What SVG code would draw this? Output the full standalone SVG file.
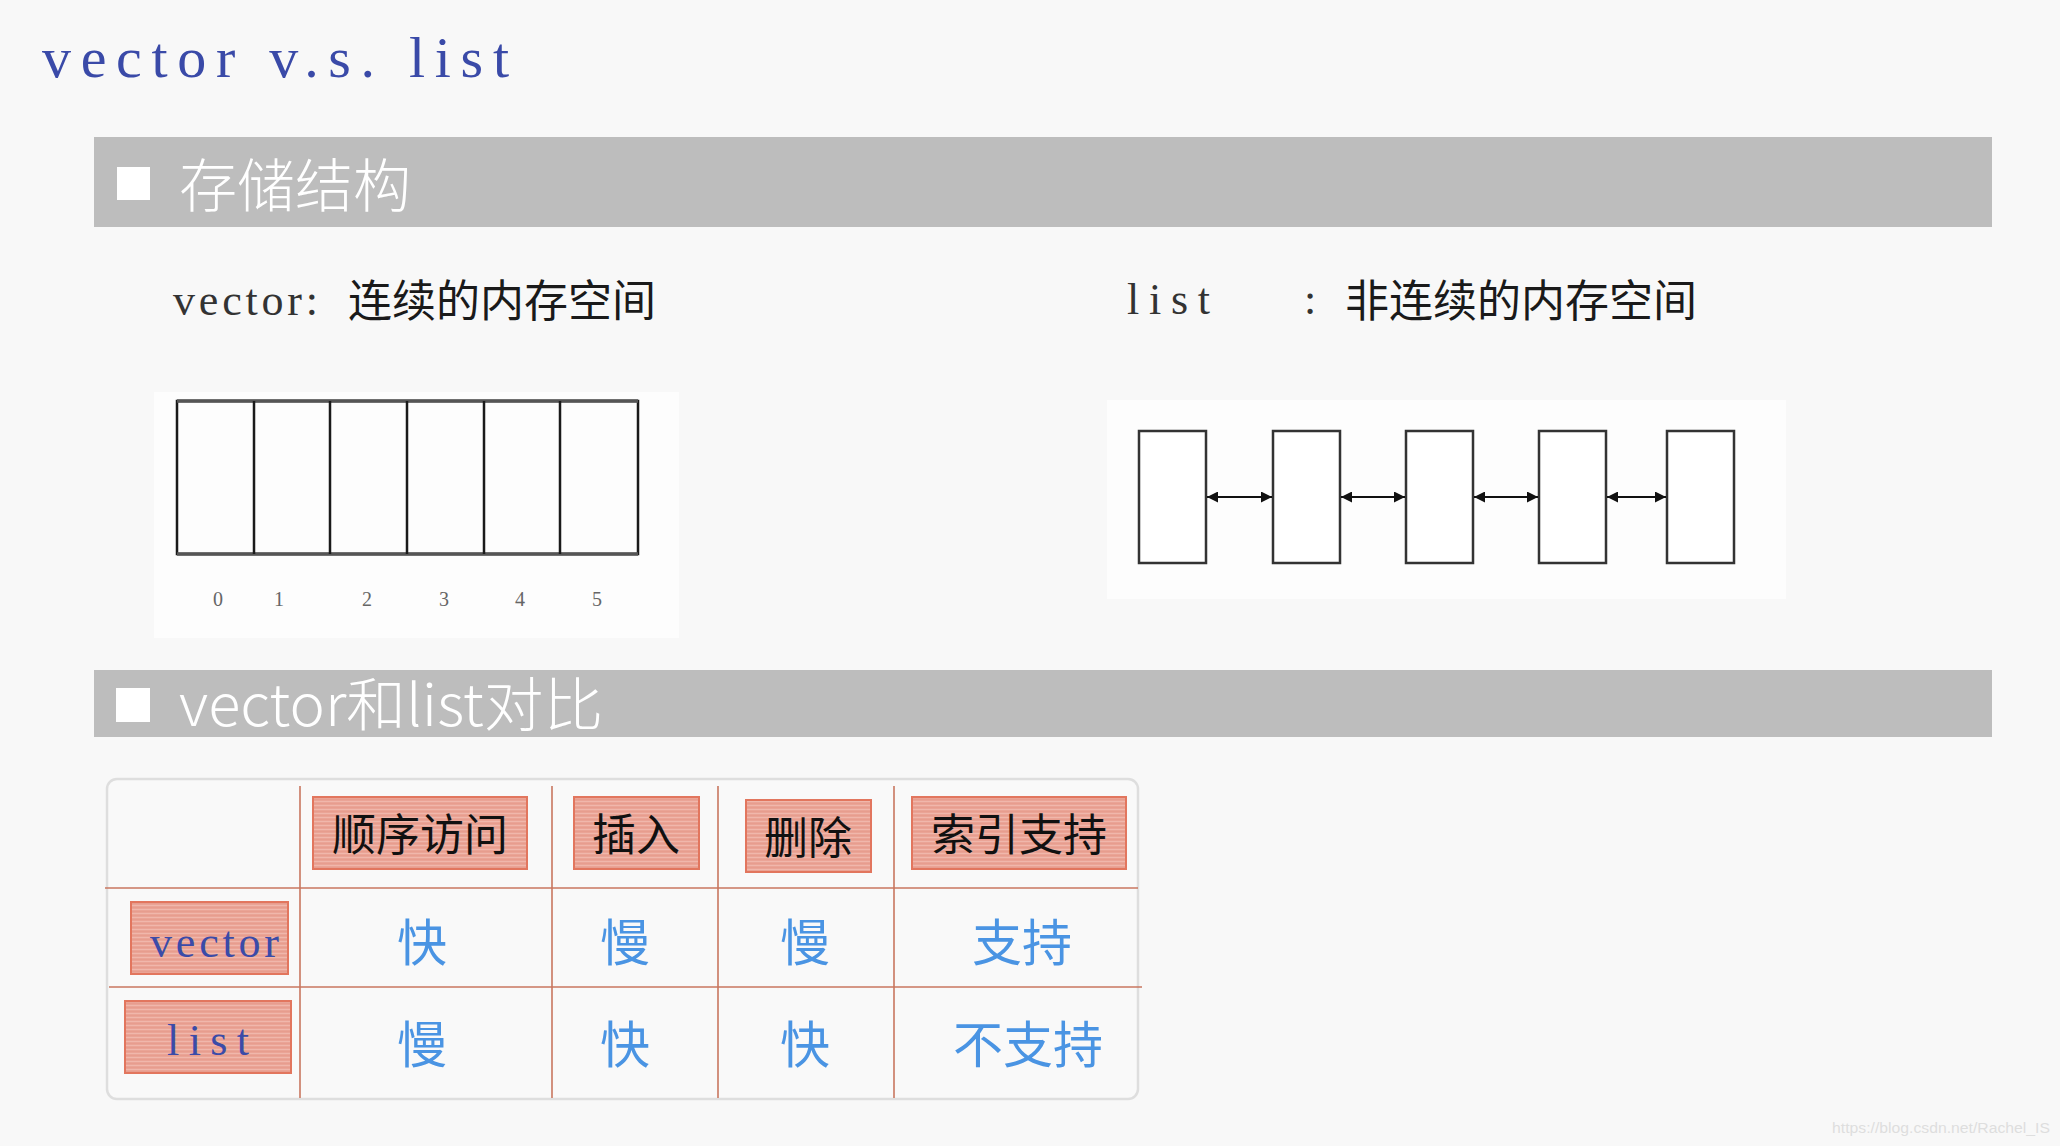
<svg xmlns="http://www.w3.org/2000/svg" width="2060" height="1146" viewBox="0 0 2060 1146">
<defs>
<style>
.bar{fill:#bdbdbd}
.sq{fill:#ffffff}
.bartxt{font-family:"Noto Sans CJK SC","Noto Sans",sans-serif;font-weight:300;fill:#ffffff;font-size:58px}
.serif{font-family:"Liberation Serif","Noto Sans CJK SC",serif}
.cjk{font-family:"Noto Sans CJK SC","Noto Sans",sans-serif}
.sub{fill:#1a1a1a;font-size:44px}
.subl{fill:#333333;font-size:44px}
.cell{fill:none;stroke:#1a1a1a;stroke-width:2.5}
.lnode{fill:#ffffff;stroke:#333333;stroke-width:2.5}
.idx{font-family:"Liberation Serif",serif;font-size:20px;fill:#666666;text-anchor:middle}
.pink{fill:url(#stripe);stroke:#e2765e;stroke-width:2}
.hdr{font-family:"Noto Sans CJK SC",sans-serif;font-size:44px;fill:#111111;text-anchor:middle}
.rowlbl{font-family:"Liberation Serif",serif;font-size:44px;fill:#3b4ba8}
.val{font-family:"Noto Sans CJK SC",sans-serif;font-size:50px;fill:#4a94e3;text-anchor:middle}
.grid{stroke:#c8765f;stroke-width:1.6}
.arrow{stroke:#111111;stroke-width:2;marker-start:url(#ah);marker-end:url(#ah)}
</style>
<pattern id="stripe" width="8" height="4" patternUnits="userSpaceOnUse">
<rect width="8" height="4" fill="#eaa496"/>
<rect y="1" width="8" height="1" fill="#f0b7ab"/>
<rect y="3" width="8" height="0.7" fill="#e69a8b"/>
</pattern>
<marker id="ah" viewBox="0 0 10 10" refX="10" refY="5" markerWidth="11" markerHeight="11" markerUnits="userSpaceOnUse" orient="auto-start-reverse">
<path d="M0,0 L10,5 L0,10 z" fill="#111111"/>
</marker>
</defs>
<rect width="2060" height="1146" fill="#f8f8f8"/>

<text id="title" class="serif" x="42" y="77" font-size="58" fill="#3a4aa8" textLength="467" lengthAdjust="spacing">vector v.s. list</text>

<g id="section1">
<rect class="bar" x="94" y="137" width="1898" height="90"/>
<rect class="sq" x="117" y="167" width="33" height="33"/>
<text class="bartxt" x="179" y="207">存储结构</text>
</g>

<g id="vector-caption">
<text class="serif subl" x="173" y="315" textLength="145" lengthAdjust="spacing">vector:</text>
<text class="cjk sub" x="348" y="317">连续的内存空间</text>
</g>

<g id="list-caption">
<text class="serif subl" x="1127" y="314" textLength="83" lengthAdjust="spacing">list</text>
<text class="serif subl" x="1304" y="314">:</text>
<text class="cjk sub" x="1345" y="317">非连续的内存空间</text>
</g>

<g id="vector-memory">
<rect x="154" y="392" width="525" height="246" fill="#fdfdfd"/>
<rect class="cell" x="177" y="401" width="461" height="153"/>
<line x1="177" y1="401" x2="638" y2="401" stroke="#555" stroke-width="3.5"/>
<line x1="177" y1="554" x2="638" y2="554" stroke="#555" stroke-width="3.5"/>
<line class="cell" x1="254" y1="401" x2="254" y2="554"/>
<line class="cell" x1="330" y1="401" x2="330" y2="554"/>
<line class="cell" x1="407" y1="401" x2="407" y2="554"/>
<line class="cell" x1="484" y1="401" x2="484" y2="554"/>
<line class="cell" x1="560" y1="401" x2="560" y2="554"/>
<text class="idx" x="218" y="606">0</text>
<text class="idx" x="279" y="606">1</text>
<text class="idx" x="367" y="606">2</text>
<text class="idx" x="444" y="606">3</text>
<text class="idx" x="520" y="606">4</text>
<text class="idx" x="597" y="606">5</text>
</g>

<g id="list-memory">
<rect x="1107" y="400" width="679" height="199" fill="#fdfdfd"/>
<g id="lnode1"><rect class="lnode" x="1139" y="431" width="67" height="132"/></g>
<g id="lnode2"><rect class="lnode" x="1273" y="431" width="67" height="132"/></g>
<g id="lnode3"><rect class="lnode" x="1406" y="431" width="67" height="132"/></g>
<g id="lnode4"><rect class="lnode" x="1539" y="431" width="67" height="132"/></g>
<g id="lnode5"><rect class="lnode" x="1667" y="431" width="67" height="132"/></g>
</g>

<g id="connectors">
<line class="arrow" x1="1207" y1="497" x2="1272" y2="497"/>
<line class="arrow" x1="1341" y1="497" x2="1405" y2="497"/>
<line class="arrow" x1="1474" y1="497" x2="1538" y2="497"/>
<line class="arrow" x1="1607" y1="497" x2="1666" y2="497"/>
</g>

<g id="section2">
<rect class="bar" x="94" y="670" width="1898" height="67"/>
<rect class="sq" x="116" y="688" width="34" height="34"/>
<text class="bartxt" x="179" y="726" textLength="424" lengthAdjust="spacingAndGlyphs">vector和list对比</text>
</g>

<g id="table">
<rect x="107" y="779" width="1031" height="320" rx="10" fill="#f9f9f9" stroke="#dedede" stroke-width="2.5"/>
<line class="grid" x1="300" y1="786" x2="300" y2="1098"/>
<line class="grid" x1="552" y1="786" x2="552" y2="1098"/>
<line class="grid" x1="718" y1="786" x2="718" y2="1098"/>
<line class="grid" x1="894" y1="786" x2="894" y2="1098"/>
<line class="grid" x1="105" y1="888" x2="1138" y2="888"/>
<line class="grid" x1="109" y1="987" x2="1142" y2="987"/>

<g id="h-seq"><rect class="pink" x="313" y="797" width="214" height="72"/><text class="hdr" x="420" y="851">顺序访问</text></g>
<g id="h-ins"><rect class="pink" x="574" y="797" width="125" height="72"/><text class="hdr" x="636" y="851">插入</text></g>
<g id="h-del"><rect class="pink" x="746" y="800" width="125" height="72"/><text class="hdr" x="808" y="854">删除</text></g>
<g id="h-idx"><rect class="pink" x="912" y="797" width="214" height="72"/><text class="hdr" x="1019" y="851">索引支持</text></g>

<g id="r-vector"><rect class="pink" x="131" y="902" width="157" height="72"/><text class="rowlbl" x="150" y="957" textLength="129" lengthAdjust="spacing">vector</text></g>
<g id="r-list"><rect class="pink" x="125" y="1001" width="166" height="72"/><text class="rowlbl" x="167" y="1055" textLength="82" lengthAdjust="spacing">list</text></g>

<text class="val" x="422" y="961">快</text>
<text class="val" x="625" y="961">慢</text>
<text class="val" x="805" y="961">慢</text>
<text class="val" x="1022" y="961">支持</text>
<text class="val" x="422" y="1063">慢</text>
<text class="val" x="625" y="1063">快</text>
<text class="val" x="805" y="1063">快</text>
<text class="val" x="1028" y="1063">不支持</text>
</g>

<text id="watermark" x="1832" y="1133" font-family="Liberation Sans,Arial,sans-serif" font-size="15.5" fill="#dedede" textLength="218" lengthAdjust="spacingAndGlyphs">https://blog.csdn.net/Rachel_IS</text>
</svg>
